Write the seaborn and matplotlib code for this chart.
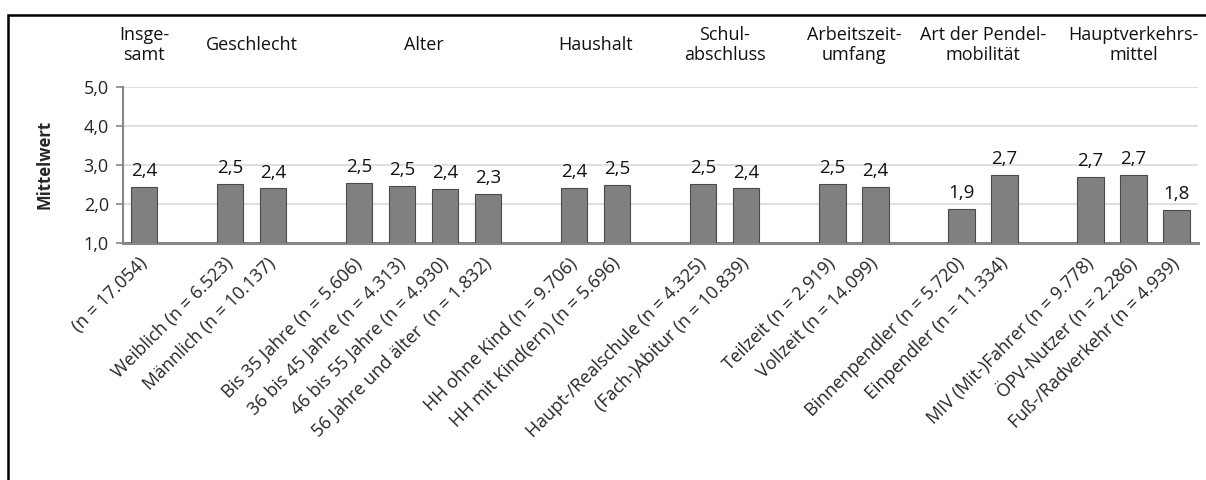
import matplotlib
matplotlib.use("Agg")
import matplotlib.pyplot as plt
import matplotlib.transforms as mtransforms
from matplotlib.patches import Rectangle
import pandas as pd
import seaborn as sns

# Group headers and the categories within each group
groups = [
    "Insge-\nsamt",
    "Geschlecht",
    "Alter",
    "Haushalt",
    "Schul-\nabschluss",
    "Arbeitszeit-\numfang",
    "Art der Pendel-\nmobilität",
    "Hauptverkehrs-\nmittel",
]

cat_insgesamt = ["(n = 17.054)"]
cat_geschlecht = ["Weiblich (n = 6.523)", "Männlich (n = 10.137)"]
cat_alter = ["Bis 35 Jahre (n = 5.606)", "36 bis 45 Jahre (n = 4.313)",
             "46 bis 55 Jahre (n = 4.930)", "56 Jahre und älter  (n = 1.832)"]
cat_haushalt = ["HH ohne Kind (n = 9.706)", "HH mit Kind(ern) (n = 5.696)"]
cat_schule = ["Haupt-/Realschule (n = 4.325)", "(Fach-)Abitur (n = 10.839)"]
cat_arbeitszeit = ["Teilzeit (n = 2.919)", "Vollzeit (n = 14.099)"]
cat_pendel = ["Binnenpendler (n = 5.720)", "Einpendler (n = 11.334)"]
cat_verkehrsmittel = ["MIV (Mit-)Fahrer (n = 9.778)", "ÖPV-Nutzer (n = 2.286)",
                      "Fuß-/Radverkehr (n = 4.939)"]

# Mean values (Mittelwert) per category
val_insgesamt = [2.44]
val_geschlecht = [2.51, 2.39]
val_alter = [2.53, 2.46, 2.37, 2.26]
val_haushalt = [2.40, 2.47]
val_schule = [2.51, 2.39]
val_arbeitszeit = [2.50, 2.42]
val_pendel = [1.86, 2.73]
val_verkehrsmittel = [2.68, 2.73, 1.84]

y_ticks = [1.0, 2.0, 3.0, 4.0, 5.0]

cat_groups = [cat_insgesamt, cat_geschlecht, cat_alter, cat_haushalt,
              cat_schule, cat_arbeitszeit, cat_pendel, cat_verkehrsmittel]
val_groups = [val_insgesamt, val_geschlecht, val_alter, val_haushalt,
              val_schule, val_arbeitszeit, val_pendel, val_verkehrsmittel]

# Build the long table and a category order with one empty slot between groups
rows = []
order = []
tick_text = []
group_centers = []
for gi, (cats, vals) in enumerate(zip(cat_groups, val_groups)):
    start = len(order)
    for c, v in zip(cats, vals):
        rows.append({"Kategorie": c, "Mittelwert": v})
        order.append(c)
        tick_text.append(c)
    group_centers.append((start + len(order) - 1) / 2)
    if gi < len(cat_groups) - 1:
        order.append(" " * (gi + 1))
        tick_text.append("")
df = pd.DataFrame(rows)

sns.set_theme(style="white")
plt.rcParams["font.family"] = ["Open Sans", "DejaVu Sans"]

fig = plt.figure(figsize=(12.06, 4.8), dpi=100)
ax = fig.add_axes([122.7 / 1206, 1 - 242.7 / 480,
                   (1198 - 122.7) / 1206, (242.7 - 86.7) / 480])

sns.barplot(data=df, x="Kategorie", y="Mittelwert", order=order,
            color="#808080", saturation=1, width=0.61,
            edgecolor="#4a4a4a", linewidth=0.8, ax=ax, zorder=3)

# Value labels from the bar heights
for cont in ax.containers:
    labels = [f"{b.get_height():.1f}".replace(".", ",") for b in cont]
    ax.bar_label(cont, labels=labels, padding=5, fontsize=13.5, color="#111111")

ax.set_xlim(-0.5, len(order) - 0.5)
ax.set_ylim(y_ticks[0], y_ticks[-1])
ax.set_yticks(y_ticks)
ax.set_yticklabels([f"{t:.1f}".replace(".", ",") for t in y_ticks], fontsize=13)
ax.yaxis.grid(True, color="#d9d9d9", linewidth=1.2, zorder=0)
ax.set_axisbelow(True)

ax.set_xticks(range(len(order)))
ax.set_xticklabels(tick_text, rotation=45, ha="right", va="center",
                   rotation_mode="anchor", fontsize=13)
ax.tick_params(axis="x", length=0, pad=13)
ax.tick_params(axis="y", length=5, width=1.2, color="#868686", pad=5, left=True)

ax.set_xlabel("")
ax.set_ylabel("Mittelwert", fontsize=12, fontweight="bold", labelpad=22)

for side in ["top", "right"]:
    ax.spines[side].set_visible(False)
ax.spines["left"].set_color("#868686")
ax.spines["left"].set_linewidth(1.5)
ax.spines["bottom"].set_color("#868686")
ax.spines["bottom"].set_linewidth(2.2)

# Group headers above the plot area
trans = mtransforms.blended_transform_factory(ax.transData, fig.transFigure)
for name, cx in zip(groups, group_centers):
    ax.text(cx, 1 - 45 / 480, name, transform=trans, ha="center", va="center",
            fontsize=13, linespacing=1.2, color="#111111")

# Outer frame (top and left edges visible)
fig.patches.append(Rectangle((8 / 1206, -0.2), 1.2, 0.2 + (480 - 15) / 480,
                             transform=fig.transFigure, fill=False,
                             edgecolor="black", linewidth=1.8))

fig.savefig("out.png", dpi=100, facecolor="white")
